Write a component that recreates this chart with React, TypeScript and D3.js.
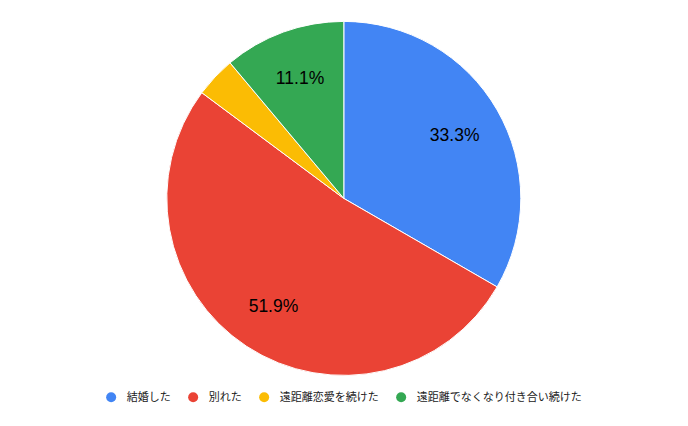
import React, { useEffect, useRef } from "react";
import * as d3 from "d3";

const categories = ["結婚した", "別れた", "遠距離恋愛を続けた", "遠距離でなくなり付き合い続けた"];
const counts = [9, 14, 1, 3];
const colors = ["#4285F4", "#EA4335", "#FBBC04", "#34A853"];

const W = 688;
const H = 426;

export default function App() {
  const ref = useRef<SVGSVGElement>(null);

  useEffect(() => {
    const svg = d3.select(ref.current);
    svg.selectAll("*").remove();
    const cx = 343.8;
    const cy = 198.4;
    const r = 177;
    const total = d3.sum(counts);
    const data = categories.map((c, i) => ({ c, v: counts[i], color: colors[i] }));
    const pie = d3.pie<any>().sort(null).value((d) => d.v);
    const arcs = pie(data);
    const arc = d3.arc<any>().innerRadius(0).outerRadius(r);
    const labelR = 128;
    const labelArc = d3.arc<any>().innerRadius(labelR * 2 - r).outerRadius(r);

    const g = svg.append("g").attr("transform", `translate(${cx},${cy})`);
    g.selectAll("path")
      .data(arcs)
      .join("path")
      .attr("d", arc)
      .attr("fill", (d: any) => d.data.color)
      .attr("stroke", "#fff")
      .attr("stroke-width", 1);

    g.selectAll("text")
      .data(arcs.filter((d: any) => d.data.v / total > 0.05))
      .join("text")
      .attr("transform", (d: any) => {
        const [x, y] = labelArc.centroid(d);
        return `translate(${x},${y})`;
      })
      .attr("text-anchor", "middle")
      .attr("dy", "0.36em")
      .attr("font-family", "Arial, 'Liberation Sans', sans-serif")
      .attr("font-size", 17.5)
      .attr("fill", "#000")
      .text((d: any) => ((d.data.v / total) * 100).toFixed(1) + "%");

    // legend
    const lg = svg.append("g");
    const ly = 397.3;
    const items = lg.selectAll("g").data(data).join("g");
    items
      .append("circle")
      .attr("r", 5)
      .attr("cy", ly)
      .attr("fill", (d) => d.color);
    const texts = items
      .append("text")
      .attr("y", ly)
      .attr("dy", "0.35em")
      .attr("font-family", "'Noto Sans CJK JP', Arial, sans-serif")
      .attr("font-size", 11)
      .attr("fill", "#222")
      .text((d) => d.c);
    const widths: number[] = [];
    texts.each(function () {
      widths.push((this as SVGTextElement).getComputedTextLength());
    });
    const circleToText = 15.7;
    const gap = 22.3;
    let totalW = 0;
    widths.forEach((w, i) => {
      totalW += (i === 0 ? 5 : 0) + circleToText + w + (i < widths.length - 1 ? gap : 0);
    });
    let x = W / 2 - totalW / 2 + 5;
    items.each(function (_d, i) {
      const sel = d3.select(this);
      sel.select("circle").attr("cx", x);
      sel.select("text").attr("x", x + circleToText);
      x += circleToText + widths[i] + gap;
    });
  }, []);

  return (
    <svg ref={ref} width={W} height={H} style={{ position: "absolute", left: 0, top: 0, background: "#fff" }} />
  );
}
